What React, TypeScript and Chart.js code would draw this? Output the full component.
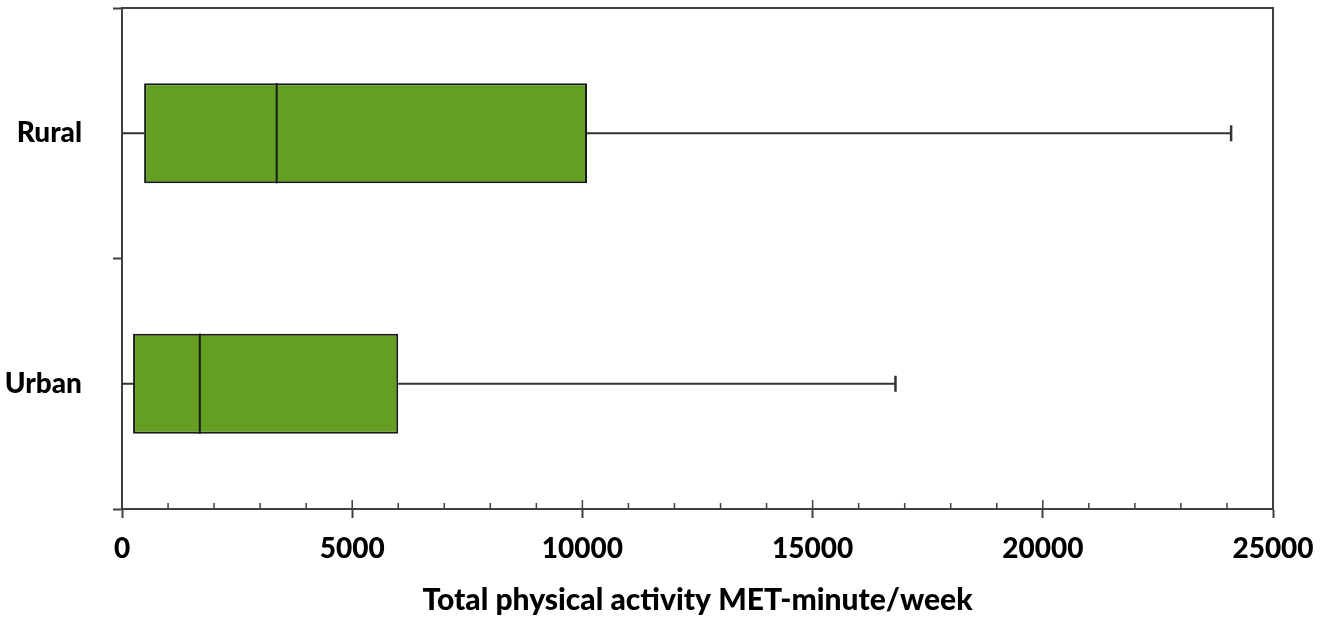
import { useEffect, useRef } from 'react';
import { Chart, registerables } from 'chart.js';

Chart.register(...registerables);

const categories = ['Rural', 'Urban'];
const minValues = [0, 0];
const q1Values = [480, 240];
const medianValues = [3360, 1690];
const q3Values = [10100, 6000];
const maxValues = [24090, 16800];

const xMin = 0;
const xMax = 25000;
const xMinorStep = 1000;
const xMajorStep = 5000;
const xTitle = 'Total physical activity MET-minute/week';

const AXIS_COLOR = '#404040';
const BOX_FILL = '#649E22';
const FONT_FAMILY = 'Lato, "Open Sans", sans-serif';
const LINE_W = 2;

const boxPlugin = {
  id: 'boxWhiskers',
  afterDatasetsDraw(chart: any) {
    const ctx = chart.ctx;
    const xs = chart.scales.x;
    const ys = chart.scales.y;
    const meta = chart.getDatasetMeta(0);
    const { left, right, top, bottom } = chart.chartArea;
    ctx.save();
    // frame (top & right)
    ctx.strokeStyle = AXIS_COLOR;
    ctx.lineWidth = LINE_W;
    ctx.beginPath();
    ctx.moveTo(left, top);
    ctx.lineTo(right, top);
    ctx.lineTo(right, bottom);
    ctx.stroke();
    // inner ticks on x axis
    ctx.lineWidth = 1.5;
    ctx.beginPath();
    xs.ticks.forEach((t: any) => {
      const px = xs.getPixelForValue(t.value);
      const len = t.value % xMajorStep === 0 ? 9 : 6;
      ctx.moveTo(px, bottom);
      ctx.lineTo(px, bottom - len);
    });
    ctx.stroke();
    // whiskers and medians
    categories.forEach((_, i) => {
      const bar = meta.data[i];
      const cy = ys.getPixelForValue(i);
      const half = bar.height / 2;
      const capHalf = 8;
      const pMin = xs.getPixelForValue(minValues[i]);
      const pQ1 = xs.getPixelForValue(q1Values[i]);
      const pMed = xs.getPixelForValue(medianValues[i]);
      const pQ3 = xs.getPixelForValue(q3Values[i]);
      const pMax = xs.getPixelForValue(maxValues[i]);
      ctx.strokeStyle = '#333333';
      ctx.lineWidth = LINE_W;
      ctx.beginPath();
      ctx.moveTo(pMin, cy);
      ctx.lineTo(pQ1, cy);
      ctx.moveTo(pQ3, cy);
      ctx.lineTo(pMax, cy);
      ctx.stroke();
      ctx.lineWidth = 2.5;
      ctx.beginPath();
      ctx.moveTo(pMax, cy - capHalf);
      ctx.lineTo(pMax, cy + capHalf);
      ctx.stroke();
      ctx.strokeStyle = '#1a1a1a';
      ctx.lineWidth = LINE_W;
      ctx.beginPath();
      ctx.moveTo(pMed, cy - half);
      ctx.lineTo(pMed, cy + half);
      ctx.stroke();
    });
    ctx.restore();
  },
};

export default function App() {
  const canvasRef = useRef<HTMLCanvasElement | null>(null);

  useEffect(() => {
    document.body.style.margin = '0';
    const canvas = canvasRef.current;
    if (!canvas) return;
    const chart = new Chart(canvas, {
      type: 'bar',
      data: {
        labels: categories,
        datasets: [
          {
            label: 'IQR',
            data: categories.map((_, i) => [q1Values[i], q3Values[i]]) as any,
            backgroundColor: BOX_FILL,
            borderColor: '#1a1a1a',
            borderWidth: LINE_W,
            borderSkipped: false,
            categoryPercentage: 1,
            barPercentage: 0.4,
          },
        ],
      },
      options: {
        indexAxis: 'y',
        animation: false,
        responsive: true,
        maintainAspectRatio: false,
        layout: { padding: { top: 8, right: 64, left: 0, bottom: 0 } },
        plugins: {
          legend: { display: false },
          tooltip: { enabled: false },
        },
        scales: {
          x: {
            type: 'linear',
            min: xMin,
            max: xMax,
            afterFit: (scale: any) => {
              scale.height = 117;
            },
            ticks: {
              stepSize: xMinorStep,
              autoSkip: false,
              maxRotation: 0,
              padding: 14,
              color: '#000',
              font: { family: FONT_FAMILY, size: 28, weight: '900' as any },
              callback: (v: any) => (Number(v) % xMajorStep === 0 ? String(v) : ''),
            },
            grid: {
              drawOnChartArea: false,
              drawTicks: true,
              tickLength: 9,
              tickWidth: LINE_W,
              tickColor: (c: any) =>
                c.tick && c.tick.value % xMajorStep === 0 ? AXIS_COLOR : 'rgba(0,0,0,0)',
            },
            border: { display: true, color: AXIS_COLOR, width: LINE_W },
            title: {
              display: true,
              text: xTitle,
              color: '#000',
              font: { family: FONT_FAMILY, size: 30, weight: '900' as any },
              padding: { top: 0, bottom: 8 },
            },
          },
          y: {
            type: 'category',
            offset: true,
            afterFit: (scale: any) => {
              scale.width = 122;
              scale.paddingTop = 0;
              scale.paddingBottom = 0;
            },
            ticks: {
              padding: 31,
              color: '#000',
              font: { family: FONT_FAMILY, size: 28, weight: '900' as any },
            },
            grid: {
              offset: true,
              drawOnChartArea: false,
              drawTicks: true,
              tickLength: 9,
              tickWidth: LINE_W,
              tickColor: AXIS_COLOR,
            },
            border: { display: true, color: AXIS_COLOR, width: LINE_W },
          },
        },
      },
      plugins: [boxPlugin],
    });
    return () => chart.destroy();
  }, []);

  return (
    <div style={{ width: '1337px', height: '626px', position: 'relative' }}>
      <canvas ref={canvasRef} />
    </div>
  );
}
